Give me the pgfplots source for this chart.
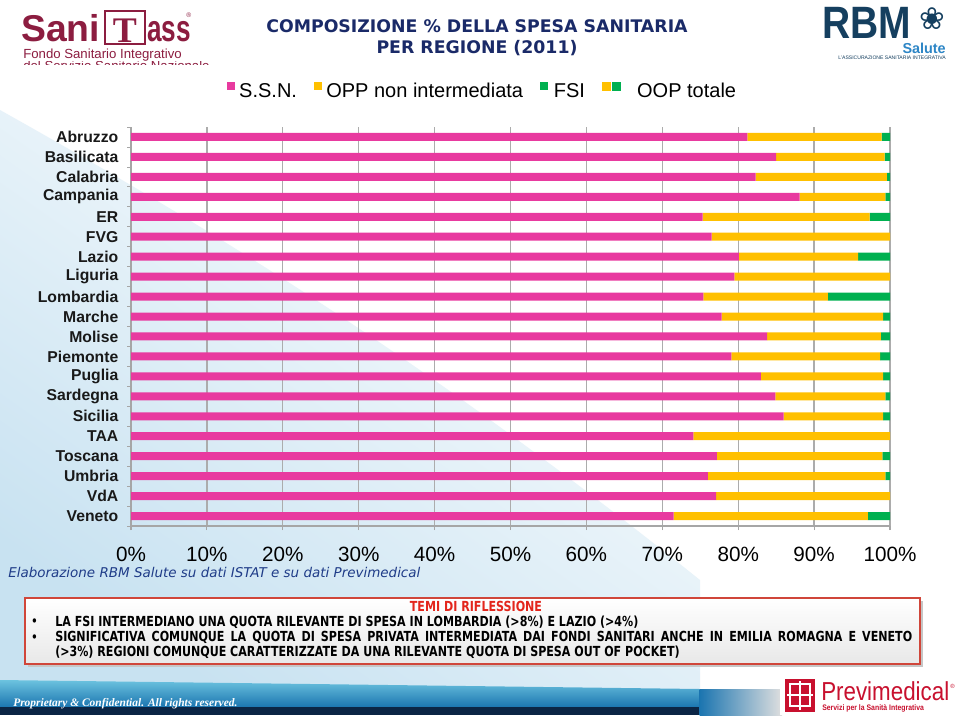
\documentclass[border=0pt]{standalone}
\usepackage{fontspec}
\setmainfont{Liberation Sans}
\newfontfamily\dejavu{DejaVu Sans}
\newfontfamily\condb[FakeStretch=0.8]{DejaVu Sans}
\newfontfamily\lserif{Liberation Serif}
\newfontfamily\narrow[FakeStretch=0.86]{Liberation Sans}
\usepackage{pgfplots}
\pgfplotsset{compat=1.18}
\usepackage{pgfplotstable}
\definecolor{pinkc}{HTML}{E83A9F}
\definecolor{yellowc}{HTML}{FFC000}
\definecolor{greenc}{HTML}{00B050}
\definecolor{titnavy}{HTML}{1A2A68}
\definecolor{capblue}{HTML}{1F3C88}
\definecolor{boxred}{HTML}{D0463A}
\definecolor{titred}{HTML}{E3261C}
\definecolor{maroon}{HTML}{8C1D40}
\definecolor{rbmnavy}{HTML}{153F5F}
\definecolor{rbmblue}{HTML}{2D86C6}
\definecolor{previred}{HTML}{C8102E}
\definecolor{swblue}{HTML}{C8E2F1}
\definecolor{footdark}{HTML}{0B2545}
\definecolor{footmid}{HTML}{1B75B0}
\definecolor{footlight}{HTML}{6CC3DF}

\pgfplotstableread{
y ssn opp fsi
19 81.2 17.7 1.1
18 85.0 14.3 0.7
17 82.3 17.3 0.4
16 88.1 11.3 0.6
15 75.3 22.0 2.7
14 76.5 23.5 0.0
13 80.1 15.7 4.2
12 79.5 20.5 0.0
11 75.4 16.4 8.2
10 77.8 21.3 0.9
9  83.8 15.0 1.2
8  79.1 19.6 1.3
7  83.0 16.1 0.9
6  84.9 14.5 0.6
5  86.0 13.1 0.9
4  74.1 25.9 0.0
3  77.2 21.8 1.0
2  76.0 23.4 0.6
1  77.1 22.9 0.0
0  71.5 25.6 2.9
}\data

\begin{document}
\begin{tikzpicture}
\begin{scope}[x=0.75pt,y=-0.75pt]
\path[use as bounding box, fill=white] (0,0) rectangle (960,715);
\shade[top color=white, bottom color=swblue, shading angle=-35]
  (0,110) .. controls (250,250) and (450,380) .. (700,580) -- (700,690) -- (0,690) -- cycle;
\end{scope}

\begin{axis}[
  at={(98.25pt,-394.5pt)}, anchor=south west,
  width=569.25pt, height=299.25pt, scale only axis,
  xbar stacked, bar width=6pt,
  xmin=0, xmax=100, ymin=-0.5, ymax=19.5,
  axis lines*=left,
  axis line style={gray!70, line width=0.8pt},
  xtick={0,10,...,100},
  xticklabel={\pgfmathprintnumber{\tick}\%},
  /pgf/number format/assume math mode=true,
  xticklabel style={font=\fontsize{15.5}{16}\selectfont, anchor=center, yshift=-18pt},
  xtick style={gray!70, line width=0.8pt},
  tick align=outside, major tick length=3pt,
  xmajorgrids, grid style={gray!65, line width=1pt},
  ytick={0,...,19},
  yticklabels={Veneto,VdA,Umbria,Toscana,TAA,Sicilia,Sardegna,Puglia,Piemonte,Molise,Marche,Lombardia,Liguria,Lazio,FVG,ER,Campania,Calabria,Basilicata,Abruzzo},
  yticklabel style={font=\bfseries\fontsize{11.8}{12}\selectfont, text=black!90, xshift=-3pt},
  ytick style={draw=none},
  extra y ticks={-0.5,0.5,...,19.5},
  extra y tick labels={},
  extra y tick style={ytick style={draw=gray!70, line width=0.6pt}},
  legend style={at={(0.462,1.09)}, anchor=center, draw=none, fill=none,
     font=\fontsize{15}{15}\selectfont, legend columns=4,
     /tikz/every even column/.append style={column sep=11pt}},
  legend cell align=left,
]
\addplot[fill=pinkc, draw=none, legend image code/.code={\fill[pinkc] (0pt,0.5pt) rectangle (6pt,6.5pt);\path[draw=none,fill=none] (-2pt,0pt) -- (7pt,0pt);}] table[x=ssn,y=y] {\data};
\addlegendentry{S.S.N.}
\addplot[fill=yellowc, draw=none, legend image code/.code={\fill[yellowc] (0pt,0.5pt) rectangle (6pt,6.5pt);\path[draw=none,fill=none] (0pt,0pt) -- (7pt,0pt);}] table[x=opp,y=y] {\data};
\addlegendentry{OPP non intermediata}
\addplot[fill=greenc, draw=none, legend image code/.code={\fill[greenc] (0pt,0.5pt) rectangle (6pt,6.5pt);\path[draw=none,fill=none] (0pt,0pt) -- (8pt,0pt);}] table[x=fsi,y=y] {\data};
\addlegendentry{FSI}
\addlegendimage{legend image code/.code={\fill[yellowc] (0pt,0.5pt) rectangle (6pt,6.5pt); \fill[greenc] (7pt,0.5pt) rectangle (13pt,6.5pt);\path[draw=none,fill=none] (0pt,0pt) -- (24pt,0pt);}}
\addlegendentry{OOP totale}
\end{axis}

\begin{scope}[x=0.75pt,y=-0.75pt]
% title
\node[anchor=base, font=\dejavu\bfseries\fontsize{13}{14}\selectfont, text=titnavy] at (477,32) {COMPOSIZIONE \% DELLA SPESA SANITARIA};
\node[anchor=base, font=\dejavu\bfseries\fontsize{13}{14}\selectfont, text=titnavy] at (477,53) {PER REGIONE (2011)};
% SaniTass logo
\node[anchor=base west, inner sep=0pt, font=\bfseries\fontsize{28}{28}\selectfont, text=maroon] at (21,41) {\raisebox{0pt}[\height][0pt]{Sani}};
\draw[maroon, line width=1.2pt] (105,11) rectangle (145,44);
\node[anchor=base, inner sep=0pt, font=\lserif\bfseries\fontsize{27}{27}\selectfont, text=maroon] at (125,42) {T};
\node[anchor=base west, inner sep=0pt, font=\bfseries\fontsize{28}{28}\selectfont, text=maroon] at (147,41) {\raisebox{0pt}[\height][0pt]{\scalebox{0.7}[1]{ass}}};
\node[anchor=base west, inner sep=0pt, font=\fontsize{5}{5}\selectfont, text=maroon] at (186,17) {\textregistered};
\node[anchor=base west, inner sep=0pt, font=\fontsize{9.9}{10}\selectfont, text=maroon] at (23,58) {Fondo Sanitario Integrativo};
\begin{scope}
\clip (0,61) rectangle (250,64);
\node[anchor=base west, inner sep=0pt, font=\fontsize{9.9}{10}\selectfont, text=maroon] at (23,70) {del Servizio Sanitario Nazionale};
\end{scope}
% RBM logo
\node[anchor=base west, inner sep=0pt, font=\bfseries\fontsize{34}{34}\selectfont, text=rbmnavy] at (822,38) {\raisebox{0pt}[\height][0pt]{\scalebox{0.86}[1]{RBM}}};
\node[inner sep=0pt, font=\dejavu\fontsize{23}{23}\selectfont, text=rbmnavy] at (932,19) {❀};
\node[anchor=base east, inner sep=0pt, font=\bfseries\fontsize{10.8}{12}\selectfont, text=rbmblue] at (946,53) {Salute};
\node[anchor=base east, inner sep=0pt, font=\fontsize{3.8}{4}\selectfont, text=rbmnavy] at (946,59.5) {L'ASSICURAZIONE SANITARIA INTEGRATIVA};
% caption
\node[anchor=base west, inner sep=0pt, font=\dejavu\itshape\fontsize{10.1}{11}\selectfont, text=capblue] at (8,577) {Elaborazione RBM Salute su dati ISTAT e su dati Previmedical};
% box
\fill[gray!45] (28,601) rectangle (923,667);
\shade[top color=white, bottom color=gray!18] (25,598) rectangle (920,664);
\draw[boxred, line width=1.1pt] (25,598) rectangle (920,664);
\node[anchor=base, inner sep=0pt, font=\condb\bfseries\fontsize{10.4}{11}\selectfont, text=titred] at (476,611) {TEMI DI RIFLESSIONE};
\node[anchor=base west, inner sep=0pt, font=\condb\bfseries\fontsize{9.2}{11}\selectfont] at (31,625) {\textbullet};
\node[anchor=base west, inner sep=0pt, font=\condb\bfseries\fontsize{9.2}{11}\selectfont] at (31,641) {\textbullet};
\node[anchor=base west, inner sep=0pt, font=\condb\bfseries\fontsize{10.4}{11}\selectfont] at (55,626) {LA FSI INTERMEDIANO UNA QUOTA RILEVANTE DI SPESA IN LOMBARDIA (>8\%) E LAZIO (>4\%)};
\node[anchor=base west, inner sep=0pt, font=\condb\bfseries\fontsize{10.4}{11}\selectfont] at (55,641) {\makebox[642.75pt][s]{SIGNIFICATIVA COMUNQUE LA QUOTA DI SPESA PRIVATA INTERMEDIATA DAI FONDI SANITARI ANCHE IN EMILIA ROMAGNA E VENETO}};
\node[anchor=base west, inner sep=0pt, font=\condb\bfseries\fontsize{10.4}{11}\selectfont] at (55,656) {(>3\%) REGIONI COMUNQUE CARATTERIZZATE DA UNA RILEVANTE QUOTA DI SPESA OUT OF POCKET)};
% footer
\shade[top color=footlight, bottom color=footmid] (0,680) -- (700,689) -- (700,707) -- (0,707) -- cycle;
\fill[footdark] (0,707) rectangle (700,715);
\shade[left color=footmid, right color=gray!25] (699.5,689) rectangle (782,715);
\fill[white] (780,670) rectangle (960,715);
\node[anchor=base west, inner sep=0pt, font=\lserif\itshape\bfseries\fontsize{8.6}{9}\selectfont, text=white] at (13,706) {Proprietary \& Confidential. All rights reserved.};
% Previmedical logo
\fill[previred] (785,679) rectangle (815,712);
\draw[white, line width=1.3pt] (800,681) -- (800,710) (787,695) -- (813,695);
\draw[white, line width=0.8pt] (790,684) rectangle (810,706);
\node[anchor=base west, inner sep=0pt, font=\narrow\fontsize{19.5}{20}\selectfont, text=previred] at (821,700) {Previmedical};
\node[anchor=base west, inner sep=0pt, font=\fontsize{4.5}{5}\selectfont, text=previred] at (950,688) {\textregistered};
\node[anchor=base west, inner sep=0pt, font=\narrow\bfseries\fontsize{6}{7}\selectfont, text=previred] at (822,710) {Servizi per la Sanità Integrativa};
\end{scope}
\end{tikzpicture}
\end{document}
